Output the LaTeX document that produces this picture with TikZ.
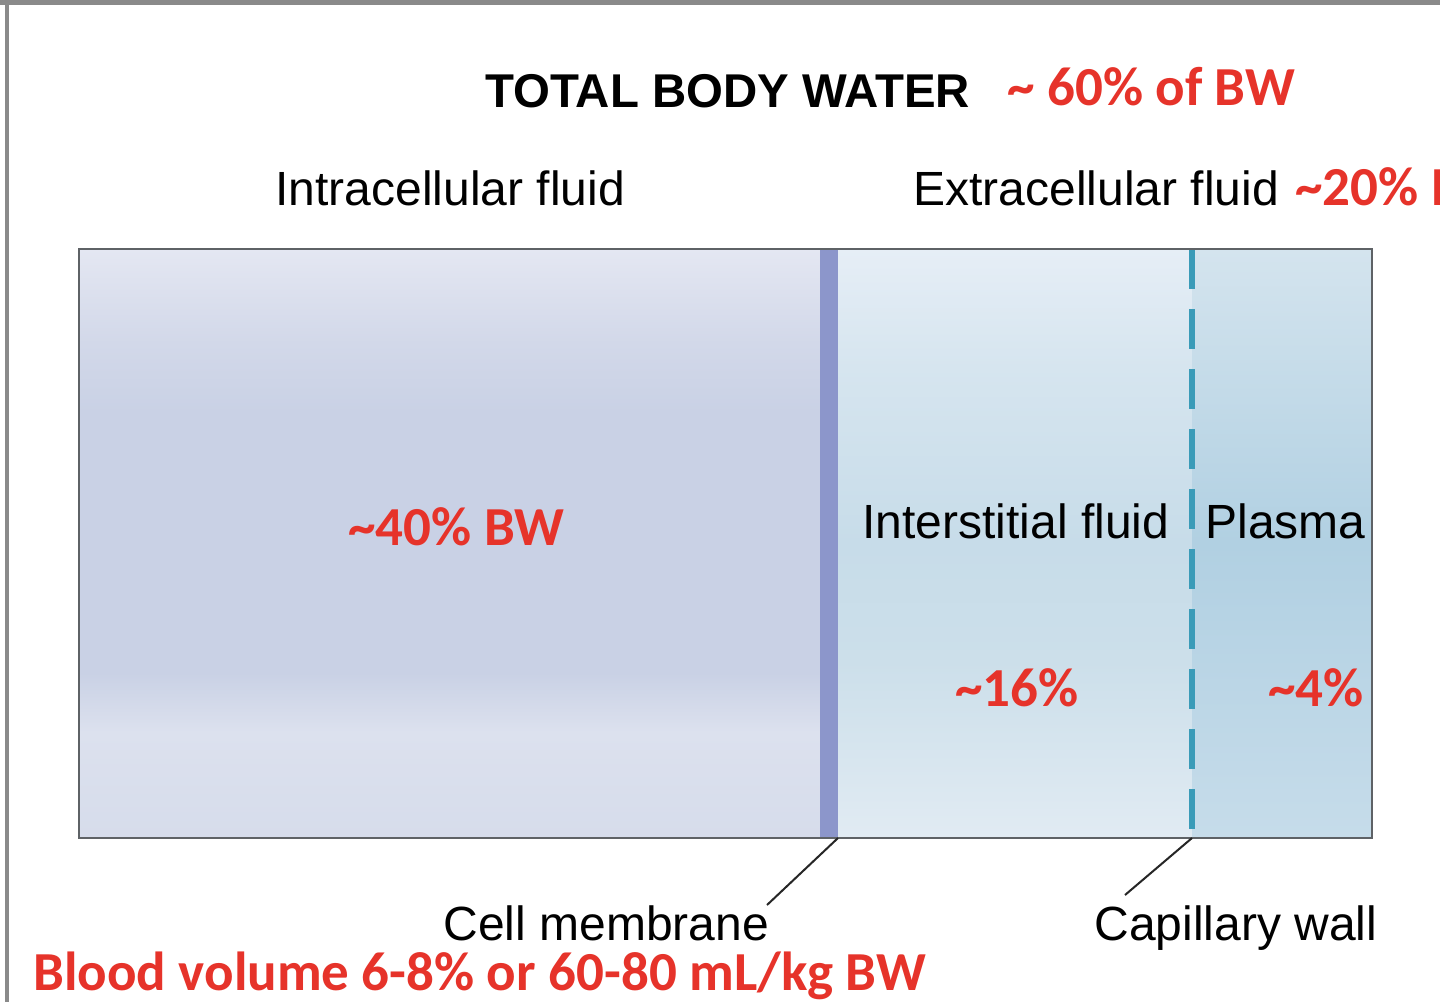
\documentclass[tikz,border=0pt]{standalone}
\usepackage{fontspec}
\setmainfont{Liberation Sans}
\newfontfamily\carlfont{Carlito}
\definecolor{redt}{HTML}{E6332A}
\definecolor{framegray}{HTML}{8A8A8A}
\definecolor{boxline}{HTML}{5E6266}
\definecolor{membcol}{HTML}{8C96CB}
\definecolor{capcol}{HTML}{3A9BB8}
\definecolor{icfA}{HTML}{D6DCEB}
\definecolor{icfB}{HTML}{DCE1EE}
\definecolor{icfC}{HTML}{C9D1E5}
\definecolor{icfD}{HTML}{D2D8E9}
\definecolor{icfE}{HTML}{E4E7F2}
\definecolor{isfA}{HTML}{E1EBF3}
\definecolor{isfB}{HTML}{CCDFEA}
\definecolor{isfC}{HTML}{C7DCE9}
\definecolor{isfD}{HTML}{D6E5EF}
\definecolor{isfE}{HTML}{E6EEF6}
\definecolor{plA}{HTML}{C6DCEA}
\definecolor{plB}{HTML}{B1D0E2}
\definecolor{plC}{HTML}{D4E4EE}
% TikZ maps the path onto the middle 25bp..75bp of a 100bp shading
\pgfdeclareverticalshading{icfshade}{100bp}{color(0bp)=(icfA); color(25bp)=(icfA); color(34bp)=(icfB); color(39bp)=(icfC); color(61bp)=(icfC); color(67bp)=(icfD); color(75bp)=(icfE); color(100bp)=(icfE)}
\pgfdeclareverticalshading{isfshade}{100bp}{color(0bp)=(isfA); color(25bp)=(isfA); color(40bp)=(isfB); color(50bp)=(isfC); color(65bp)=(isfD); color(75bp)=(isfE); color(100bp)=(isfE)}
\pgfdeclareverticalshading{plshade}{100bp}{color(0bp)=(plA); color(25bp)=(plA); color(50bp)=(plB); color(75bp)=(plC); color(100bp)=(plC)}
\begin{document}
\begin{tikzpicture}[x=0.5pt,y=-0.5pt,
  lbl/.style={inner sep=0pt,anchor=base west,font=\fontsize{24}{28}\selectfont},
  ttl/.style={inner sep=0pt,anchor=base west,font=\bfseries\fontsize{23.7}{28}\selectfont},
  redlbl/.style={inner sep=0pt,anchor=base west,text=redt,font=\carlfont\bfseries\fontsize{27.5}{32}\selectfont},
  leader/.style={draw=black!85,line width=1pt},
  region/.style={inner sep=0pt,outer sep=0pt,draw=none}]
\useasboundingbox (0,0) rectangle (1440,1002);
\fill[white] (0,0) rectangle (1440,1002);
% frame
\draw[framegray,line width=2.5pt] (0,2.5) -- (1440,2.5);
\draw[framegray,line width=2pt] (7,0) -- (7,1002);
% regions
\shade[shading=icfshade] (79,249) rectangle (820,838);
\shade[shading=isfshade] (838,249) rectangle (1192,838);
\shade[shading=plshade] (1192,249) rectangle (1372,838);
\node[region,fill=membcol,minimum width=9pt,minimum height=294.5pt] (membrane) at (829,543.5) {};
\coordinate (captop) at (1192,249);
\coordinate (capbot) at (1192,838);
\draw[capcol,line width=3pt,dash pattern=on 20pt off 10pt] (captop) -- (capbot);
\draw[boxline,line width=1.4pt] (79,249) rectangle (1372,838);
% texts
\node[ttl] (tbw) at (485,107) {TOTAL BODY WATER};
\node[redlbl] (tbwpct) at (1007,105) {\~{} 60\% of BW};
\node[lbl] (icf) at (275,205) {Intracellular fluid};
\node[lbl] (ecf) at (913,205) {Extracellular fluid};
\node[redlbl] (ecfpct) at (1295,205) {\~{}20\% BW};
\node[redlbl] (icfpct) at (348,545) {\~{}40\% BW};
\node[lbl] (isf) at (862,538) {Interstitial fluid};
\node[lbl] (plasma) at (1205,538) {Plasma};
\node[redlbl] (isfpct) at (955,706) {\~{}16\%};
\node[redlbl] (plpct) at (1268,706) {\~{}4\%};
\node[lbl] (cellmem) at (443,940) {Cell membrane};
\node[lbl] (capwall) at (1094,940) {Capillary wall};
\node[redlbl] (blood) at (33,990) {Blood volume 6-8\% or 60-80 mL/kg BW};
% leaders
\coordinate (cmend) at (767,905);
\coordinate (cwend) at (1125,895);
\draw[leader] (membrane.south east) -- (cmend);
\draw[leader] (capbot) -- (cwend);
\end{tikzpicture}
\end{document}
